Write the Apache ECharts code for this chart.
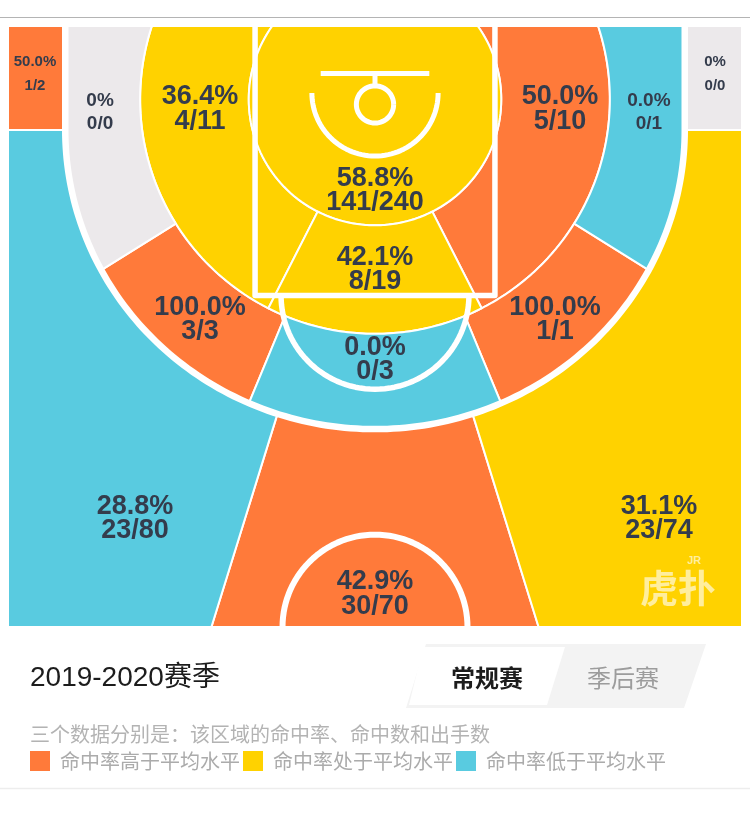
<!DOCTYPE html>
<html><head><meta charset="utf-8">
<script src="https://cdn.jsdelivr.net/npm/echarts@6/dist/echarts.min.js"></script>
<style>html,body{margin:0;padding:0;background:#fff}#chart{width:750px;height:829px}</style>
</head><body><div id="chart"></div>
<script>
// ---------------- DATA ----------------
const zoneKeys  = ['corner3L','long2BaseL','shortL','inner','shortC','shortR','long2BaseR','corner3R','long2WingL','long2C','long2WingR','wing3L','top3','wing3R'];
const zoneMade  = [1, 0, 4, 141, 8, 5, 0, 0, 3, 0, 1, 23, 30, 23];
const zoneAtt   = [2, 0, 11, 240, 19, 10, 1, 0, 3, 3, 1, 80, 70, 74];
const zonePct   = [50.0, 0, 36.4, 58.8, 42.1, 50.0, 0.0, 0, 100.0, 0.0, 100.0, 28.8, 42.9, 31.1];
const zoneLevel = ['high','none','avg','avg','avg','high','low','none','high','low','high','low','high','avg'];
const levelKeys  = ['high','avg','low','none'];
const levelNames = ['命中率高于平均水平','命中率处于平均水平','命中率低于平均水平','无出手'];
const seasonTitle = '2019-2020赛季';
const tabNames = ['常规赛','季后赛'];
const noteText = '三个数据分别是：该区域的命中率、命中数和出手数';

// ---------------- STYLE / LAYOUT ----------------
const levelColor = {high:'#FF7A3A', avg:'#FFD200', low:'#59CBE0', none:'#ECE9EB'};
const TEXT_DARK = '#343C4C';
// court geometry in feet (x: from court centre, y: down from baseline)
const G = {
  halfW: 25, len: 41,
  cy: 5.0, r1: 8.6, r2: 16.0,
  aShort: 27, aLongIn: 22.5, aLongOut: 58, a3: 17.2,
  tpA: 21.1, tpB: 20.4, tpY: 7.1,
  paintW: 8.17, paintL: 18.38, ftR: 6.4, centerR: 6.3,
  raY: 4.57, raR: 4.3,
  boardY: 3.24, boardW: 3.7, rimY: 5.35, rimR: 1.27
};
const LABEL_POS = {
  corner3L:[-23.16,3.27], long2BaseL:[-18.73,5.89], shortL:[-11.92,5.68], inner:[0,11.22],
  shortC:[0,16.6], shortR:[12.6,5.68], long2BaseR:[18.66,5.89], corner3R:[23.16,3.27],
  long2WingL:[-11.92,20.03], long2C:[0,22.75], long2WingR:[12.26,20.03],
  wing3L:[-16.35,33.6], top3:[0,38.74], wing3R:[19.35,33.6]
};
const LABEL_SIZE = {corner3L:'small', corner3R:'small', long2BaseL:'mid', long2BaseR:'mid'};
const LABEL_FONT = {big:{size:27, lh:24.5}, mid:{size:19, lh:23.3}, small:{size:15, lh:24.3}};

// ---------------- GEOMETRY HELPERS ----------------
const rad = d => d * Math.PI / 180;
function P(th, r){ return [-r * Math.sin(rad(th)), G.cy + r * Math.cos(rad(th))]; }
function arc(r, th0, th1, n){ n = n || 60; const o = []; for (let i = 0; i <= n; i++){ o.push(P(th0 + (th1 - th0) * i / n, r)); } return o; }
function baseAng(r){ return Math.acos(-G.cy / r) * 180 / Math.PI; }
function E(t){ return [G.tpA * Math.cos(t), G.tpY + G.tpB * Math.sin(t)]; }
function ell(t0, t1, n){ n = n || 60; const o = []; for (let i = 0; i <= n; i++){ o.push(E(t0 + (t1 - t0) * i / n)); } return o; }
function rayT(th){
  const dx = -Math.sin(rad(th)), dy = Math.cos(rad(th));
  const a = G.tpA, b = G.tpB, oy = G.cy - G.tpY;
  const A = dx*dx/(a*a) + dy*dy/(b*b), B = 2*dy*oy/(b*b), C = oy*oy/(b*b) - 1;
  const s = (-B + Math.sqrt(B*B - 4*A*C)) / (2*A);
  const x = s*dx, y = G.cy + s*dy;
  return Math.atan2((y - G.tpY) / b, x / a);
}
function rayBottom(th){ const s = (G.len - G.cy) / Math.cos(rad(th)); return [-s * Math.sin(rad(th)), G.len]; }
function circ(cx, cy, r, t0, t1, n){ n = n || 60; const o = []; for (let i = 0; i <= n; i++){ const t = t0 + (t1 - t0) * i / n; o.push([cx + r*Math.cos(t), cy + r*Math.sin(t)]); } return o; }
const mirror = pts => pts.map(p => [-p[0], p[1]]);
const SHAPES = {
  corner3L: () => [[-G.halfW,0],[-G.tpA,0],[-G.tpA,G.tpY],[-G.halfW,G.tpY]],
  long2BaseL: () => [P(G.aLongOut,G.r2), ...ell(rayT(G.aLongOut), Math.PI), [-G.tpA,0], ...arc(G.r2, baseAng(G.r2), G.aLongOut)],
  shortL: () => [...arc(G.r2, G.aShort, baseAng(G.r2)), ...arc(G.r1, baseAng(G.r1), G.aShort)],
  inner: () => arc(G.r1, -baseAng(G.r1), baseAng(G.r1), 120),
  shortC: () => [...arc(G.r2, -G.aShort, G.aShort), ...arc(G.r1, G.aShort, -G.aShort)],
  long2WingL: () => [...arc(G.r2, G.aLongIn, G.aLongOut), ...ell(rayT(G.aLongOut), rayT(G.aLongIn))],
  long2C: () => [...arc(G.r2, -G.aLongIn, G.aLongIn), ...ell(rayT(G.aLongIn), rayT(-G.aLongIn))],
  wing3L: () => [...ell(rayT(G.a3), Math.PI), [-G.halfW,G.tpY], [-G.halfW,G.len], rayBottom(G.a3)],
  top3: () => [...ell(rayT(G.a3), rayT(-G.a3)), rayBottom(-G.a3), rayBottom(G.a3)]
};
SHAPES.corner3R = () => mirror(SHAPES.corner3L());
SHAPES.long2BaseR = () => mirror(SHAPES.long2BaseL());
SHAPES.shortR = () => mirror(SHAPES.shortL());
SHAPES.long2WingR = () => mirror(SHAPES.long2WingL());
SHAPES.wing3R = () => mirror(SHAPES.wing3L());

function pctText(i){ return zoneAtt[i] === 0 ? '0%' : zonePct[i].toFixed(1) + '%'; }

// ---------------- SERIES ----------------
const zoneSeries = levelKeys.map((lv, li) => ({
  type: 'custom', name: levelNames[li], coordinateSystem: 'cartesian2d',
  silent: true, clip: false, z: 1, itemStyle: {color: levelColor[lv]},
  data: zoneKeys.map((k, i) => i).filter(i => zoneLevel[i] === lv)
        .map(i => ({value: [LABEL_POS[zoneKeys[i]][0], LABEL_POS[zoneKeys[i]][1], i]})),
  renderItem: (params, api) => {
    const i = api.value(2);
    const pts = SHAPES[zoneKeys[i]]().map(p => api.coord(p));
    return {type: 'polygon', shape: {points: pts}, style: {fill: levelColor[lv], stroke: '#fff', lineWidth: 2}};
  }
}));

const courtSeries = {
  type: 'custom', name: 'court', coordinateSystem: 'cartesian2d', silent: true, clip: false, z: 3,
  data: [[0, 0]],
  renderItem: (params, api) => {
    const line = (pts, w) => ({type: 'polyline', shape: {points: pts.map(p => api.coord(p))},
      style: {stroke: '#fff', lineWidth: w, fill: 'none', lineJoin: 'round'}});
    return {type: 'group', children: [
      line([[-G.tpA,0],[-G.tpA,G.tpY], ...ell(Math.PI, 0, 160), [G.tpA,G.tpY],[G.tpA,0]], 6.5),
      line([[-G.paintW,0],[-G.paintW,G.paintL],[G.paintW,G.paintL],[G.paintW,0]], 5.5),
      line(circ(0, G.paintL, G.ftR, 0, Math.PI), 5.5),
      line(circ(0, G.len, G.centerR, Math.PI, Math.PI*2), 6),
      line(circ(0, G.raY, G.raR, 0, Math.PI), 5),
      line([[-G.boardW,G.boardY],[G.boardW,G.boardY]], 5),
      line([[0,G.boardY],[0,G.rimY - G.rimR]], 5),
      line(circ(0, G.rimY, G.rimR, 0, Math.PI*2), 5)
    ]};
  }
};

const labelSeries = {
  type: 'custom', name: 'labels', coordinateSystem: 'cartesian2d', silent: true, clip: false, z: 5,
  data: zoneKeys.map((k, i) => ({value: [LABEL_POS[k][0], LABEL_POS[k][1], i]})),
  renderItem: (params, api) => {
    const i = api.value(2);
    const pt = api.coord([api.value(0), api.value(1)]);
    const f = LABEL_FONT[LABEL_SIZE[zoneKeys[i]] || 'big'];
    return {type: 'text', x: pt[0], y: pt[1], style: {
      text: pctText(i) + '\n' + zoneMade[i] + '/' + zoneAtt[i],
      fill: TEXT_DARK, font: 'bold ' + f.size + 'px "Liberation Sans", Arial, sans-serif',
      lineHeight: f.lh, align: 'center', verticalAlign: 'middle', textAlign: 'center', textVerticalAlign: 'middle'
    }};
  }
};

const CJK = '"Liberation Sans", "Noto Sans CJK SC", sans-serif';
const option = {
  animation: false,
  grid: {left: 8, top: 26, width: 734, height: 601},
  xAxis: {type: 'value', min: -G.halfW, max: G.halfW, show: false},
  yAxis: {type: 'value', min: 0, max: G.len, inverse: true, show: false},
  legend: {
    data: levelNames.slice(0, 3), left: 25, top: 746, icon: 'rect',
    itemWidth: 20, itemHeight: 20, itemGap: 3, selectedMode: false,
    textStyle: {color: '#ABABAB', fontSize: 20, fontFamily: '"Noto Sans CJK SC", sans-serif', padding: [0, 0, 0, 5]}
  },
  graphic: [
    {type: 'line', shape: {x1: 0, y1: 17.5, x2: 750, y2: 17.5}, style: {stroke: '#B4B4B4', lineWidth: 1}},
    {type: 'line', shape: {x1: 0, y1: 788.5, x2: 750, y2: 788.5}, style: {stroke: '#EDEDED', lineWidth: 1.5}},
    {type: 'text', x: 30, y: 678, style: {text: seasonTitle, font: '28px ' + CJK, fill: '#1C1C1C',
      align: 'left', verticalAlign: 'middle', textAlign: 'left', textVerticalAlign: 'middle'}},
    {type: 'polygon', shape: {points: [[426,644],[706,644],[684,708],[406,708]]}, style: {fill: '#F3F3F3'}},
    {type: 'polygon', shape: {points: [[423,647],[565,647],[547,705],[409,705]]}, style: {fill: '#FFFFFF'}},
    {type: 'text', x: 487, y: 678, style: {text: tabNames[0], font: 'bold 24px "Noto Sans CJK SC", sans-serif', fill: '#1C1C1C',
      align: 'center', verticalAlign: 'middle', textAlign: 'center', textVerticalAlign: 'middle'}},
    {type: 'text', x: 623, y: 678, style: {text: tabNames[1], font: '24px "Noto Sans CJK SC", sans-serif', fill: '#9C9C9C',
      align: 'center', verticalAlign: 'middle', textAlign: 'center', textVerticalAlign: 'middle'}},
    {type: 'text', x: 30, y: 734, style: {text: noteText, font: '20px "Noto Sans CJK SC", sans-serif', fill: '#B3B3B3',
      align: 'left', verticalAlign: 'middle', textAlign: 'left', textVerticalAlign: 'middle'}},
    {type: 'text', x: 678, y: 588, z: 10, style: {text: '虎扑', font: 'bold 38px "Noto Sans CJK SC", sans-serif', fill: 'rgba(255,255,255,0.62)',
      align: 'center', verticalAlign: 'middle', textAlign: 'center', textVerticalAlign: 'middle'}},
    {type: 'text', x: 694, y: 561, z: 10, style: {text: 'JR', font: 'bold 11px "Liberation Sans", sans-serif', fill: 'rgba(255,255,255,0.62)',
      align: 'center', verticalAlign: 'middle', textAlign: 'center', textVerticalAlign: 'middle'}}
  ],
  series: [...zoneSeries, courtSeries, labelSeries]
};
const chart = echarts.init(document.getElementById('chart'), null, {renderer: 'canvas'});
chart.setOption(option);
</script></body></html>
